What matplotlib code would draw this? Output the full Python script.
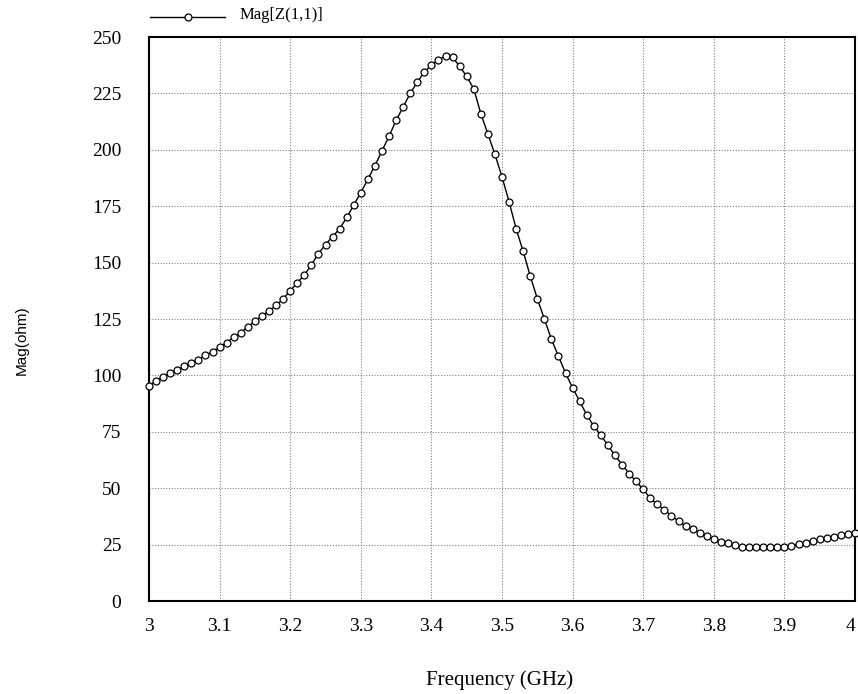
import numpy as np
import matplotlib
matplotlib.use("Agg")
import matplotlib.pyplot as plt
from matplotlib.lines import Line2D

freq = [round(3.0 + 0.01 * i, 2) for i in range(101)]
mag = [95.5, 97.5, 99.5, 101, 102.5, 104, 105.5, 107, 109, 110.5,
       112.5, 114.5, 117, 119, 121.5, 124, 126.5, 128.5, 131, 134,
       137.5, 141, 144.5, 149, 154, 158, 161.5, 165, 170, 175.5,
       181, 187, 193, 199.5, 206, 213, 219, 225, 230, 234.5,
       237.5, 240, 241.5, 241, 237, 232.5, 227, 216, 207, 198,
       188, 177, 165, 155, 144, 134, 125, 116, 108.5, 101,
       94.5, 88.5, 82.5, 77.5, 73.5, 69, 64.5, 60.5, 56.5, 53,
       49.5, 45.5, 42.8, 40.5, 37.7, 35.5, 33.2, 31.8, 30, 28.7,
       27.6, 26.2, 25.6, 24.8, 24, 24, 23.8, 23.8, 23.8, 23.9,
       24.1, 24.5, 25.2, 25.8, 26.5, 27.3, 28, 28.5, 29.2, 29.8, 30.1]
xticks = [3, 3.1, 3.2, 3.3, 3.4, 3.5, 3.6, 3.7, 3.8, 3.9, 4]
xticklabels = ["3", "3.1", "3.2", "3.3", "3.4", "3.5", "3.6", "3.7", "3.8", "3.9", "4"]
yticks = [0, 25, 50, 75, 100, 125, 150, 175, 200, 225, 250]
series_name = "Mag[Z(1,1)]"

fig = plt.figure(figsize=(8.58, 6.94), dpi=100)
ax = fig.add_axes([149/858, 1-601/694, (855-149)/858, (601-37)/694])

ax.plot(freq, mag, color="black", lw=1.0, marker="o", markersize=5,
        markerfacecolor="white", markeredgecolor="black", markeredgewidth=0.9,
        clip_on=False, zorder=3)

ax.set_xlim(3, 4)
ax.set_ylim(0, 250)
ax.set_xticks(xticks)
ax.set_xticklabels(xticklabels)
ax.set_yticks(yticks)
ax.grid(True, color="#808080", linestyle=(0, (1, 1.5)), linewidth=0.8)
ax.tick_params(length=0, labelsize=14, pad=12)
ax.tick_params(axis="y", pad=20)
for lab in ax.get_xticklabels() + ax.get_yticklabels():
    lab.set_family("Liberation Serif")
ax.get_xticklabels()[-1].set_horizontalalignment("right")
for s in ax.spines.values():
    s.set_linewidth(1.5)
    s.set_color("black")

fig.text(22/858, 1-340/694, "Mag(ohm)", rotation=90, ha="center", va="center",
         fontsize=11, family="Liberation Sans")
fig.text(500/858, 1-680/694, "Frequency (GHz)", ha="center", va="center",
         fontsize=15, family="Liberation Serif")

# legend above the axes
leg_line = Line2D([150/858, 225/858], [1-17/694, 1-17/694], transform=fig.transFigure,
                  color="black", lw=1.0)
fig.add_artist(leg_line)
leg_mark = Line2D([188/858], [1-17/694], transform=fig.transFigure, color="black",
                  marker="o", markersize=5, markerfacecolor="white", markeredgewidth=0.9)
fig.add_artist(leg_mark)
fig.text(240/858, 1-15/694, series_name, ha="left", va="center", fontsize=12,
         family="Liberation Serif")

fig.savefig("out.png", dpi=100)
